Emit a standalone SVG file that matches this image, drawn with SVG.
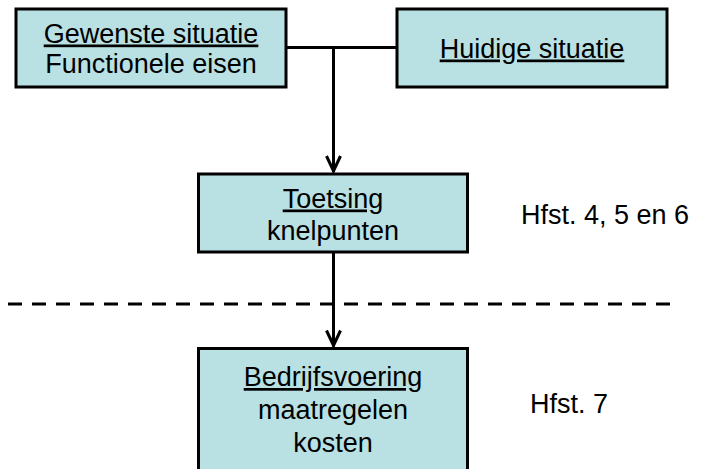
<svg xmlns="http://www.w3.org/2000/svg" width="709" height="469" viewBox="0 0 709 469">
  <style>
    .box { fill: #B9E0E3; stroke: #000; stroke-width: 3; }
    .lbl { font-family: "Liberation Sans", Arial, sans-serif; font-size: 27px; fill: #000; }
    .mid { text-anchor: middle; }
    .ul { text-decoration: underline; }
    .wire { fill: none; stroke: #000; stroke-width: 3; }
    .dash { fill: none; stroke: #000; stroke-width: 3; stroke-dasharray: 14 10; }
  </style>
  <defs>
    <!-- open V arrowhead, pointing along +x -->
    <marker id="arrow" markerUnits="userSpaceOnUse" viewBox="0 0 20 20" refX="18" refY="10" markerWidth="20" markerHeight="20" orient="auto">
      <path d="M2 3 L17 10 L2 17" fill="none" stroke="#000" stroke-width="3" stroke-linejoin="miter"/>
    </marker>
  </defs>
  <rect width="709" height="469" fill="#fff"/>

  <!-- section divider -->
  <line class="dash" x1="8" y1="304" x2="676" y2="304"/>

  <!-- connectors -->
  <g id="connectors">
    <line class="wire" x1="286" y1="47.5" x2="397" y2="47.5"/>
    <path class="wire" d="M333.5 47.5 V172" marker-end="url(#arrow)"/>
    <path class="wire" d="M333.5 252 V346.5" marker-end="url(#arrow)"/>
  </g>

  <g id="gewenste">
    <rect class="box" x="16" y="9" width="270" height="78"/>
    <text class="lbl mid ul" x="151" y="42.5">Gewenste situatie</text>
    <text class="lbl mid" x="151" y="73">Functionele eisen</text>
  </g>

  <g id="huidige">
    <rect class="box" x="397" y="9" width="270" height="78"/>
    <text class="lbl mid ul" x="532" y="57.5">Huidige situatie</text>
  </g>

  <g id="toetsing">
    <rect class="box" x="198.5" y="174" width="269" height="78"/>
    <text class="lbl mid ul" x="333" y="207.5">Toetsing</text>
    <text class="lbl mid" x="333" y="239.5">knelpunten</text>
  </g>

  <g id="bedrijfsvoering">
    <rect class="box" x="198.5" y="348.5" width="269" height="130"/>
    <text class="lbl mid ul" x="333" y="386">Bedrijfsvoering</text>
    <text class="lbl mid" x="333" y="418.5">maatregelen</text>
    <text class="lbl mid" x="333" y="451.5">kosten</text>
  </g>

  <g id="hfst-456">
    <text class="lbl" x="521" y="223.5">Hfst. 4, 5 en 6</text>
  </g>
  <g id="hfst-7">
    <text class="lbl" x="530" y="413">Hfst. 7</text>
  </g>
</svg>
